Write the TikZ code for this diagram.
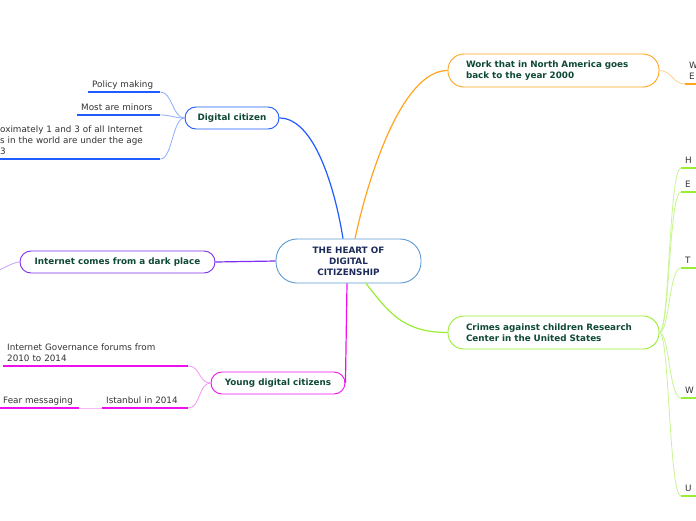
\documentclass[tikz,border=0pt]{standalone}
\usepackage{fontspec}
\setmainfont{DejaVu Sans}
\usetikzlibrary{calc}

\definecolor{heartblue}{HTML}{5B9BD5}
\definecolor{heartnavy}{HTML}{1C2B5A}
\definecolor{titlegreen}{HTML}{0F4A35}
\definecolor{leafgray}{HTML}{333333}
\definecolor{citizenblue}{HTML}{1F5BFF}
\definecolor{workorange}{HTML}{FFA41C}
\definecolor{darkpurple}{HTML}{7D2EF0}
\definecolor{crimegreen}{HTML}{99EE33}
\definecolor{youngpink}{HTML}{EE11EE}

\begin{document}
\begin{tikzpicture}[
  x=1pt, y=1pt,
  font=\fontsize{8.8}{11}\selectfont,
  heartbox/.style={
    rectangle, rounded corners=21pt,
    draw=heartblue, line width=0.9pt, fill=white,
    minimum width=145pt, minimum height=44pt,
    align=center, inner sep=0pt,
    text=heartnavy, font=\bfseries\fontsize{8.8}{11}\selectfont,
  },
  topic/.style={
    rectangle, rounded corners=11pt,
    draw, line width=0.9pt, fill=white,
    minimum height=22pt, inner xsep=12pt, inner ysep=0pt,
    text=titlegreen, font=\bfseries\fontsize{8.8}{11}\selectfont,
  },
  bigtopic/.style={
    topic, rounded corners=16pt,
    minimum height=33pt, text width=175pt,
    align=left, inner xsep=18pt,
  },
  leaf/.style={
    anchor=south west, align=left,
    inner xsep=4pt, inner ysep=4pt,
    text=leafgray,
  },
  leafline/.style={leaf, inner ysep=2.5pt, text depth=2pt},
  branch/.style={line width=1.2pt},
  twig/.style={line width=0.8pt},
  under/.style={line width=1.5pt},
]

% ----- page frame -----
\fill[white] (0,0) rectangle (696,-520);
\useasboundingbox (0,0) rectangle (696,-520);

% ----- central topic -----
\node[heartbox] (heart) at (348.5,-261) {THE HEART OF\\DIGITAL\\CITIZENSHIP};

% ----- main topics -----
\node[topic, draw=citizenblue, minimum width=94pt] (citizen) at (232,-118) {Digital citizen};
\node[bigtopic, draw=workorange] (work) at (553.5,-70.5)
  {Work that in North America goes back to the year 2000};
\node[topic, draw=darkpurple, minimum width=195pt] (dark) at (117.5,-262)
  {Internet comes from a dark place};
\node[bigtopic, draw=crimegreen] (crimes) at (553.5,-332.5)
  {Crimes against children Research Center in the United States};
\node[topic, draw=youngpink, minimum width=134pt] (young) at (278,-383)
  {Young digital citizens};

% ----- branches from the centre -----
\draw[branch, citizenblue] ([xshift=-5.5pt]heart.north)
  .. controls +(-8,50) and +(35,0) .. (citizen.east);
\draw[branch, workorange] ([xshift=6.5pt]heart.north)
  .. controls +(14,65) and +(-45,0) .. (work.west);
\draw[branch, darkpurple] (heart.west) -- (dark.east);
\draw[branch, crimegreen] ([xshift=17.5pt]heart.south)
  .. controls +(22,-28) and +(-45,0) .. (crimes.west);
\draw[branch, youngpink] ([xshift=-1.5pt]heart.south) -- (young.east);

% ----- Digital citizen (3) -----
\node[leafline, text width=64pt] (policy) at (88,-92) {Policy making};
\node[leafline, text width=75pt] (minors) at (77,-115) {Most are minors};
\node[leaf, text width=156pt] (approx) at (-4,-159)
  {oximately 1 and 3 of all Internet\\s in the world are under the age\\3};
\foreach \leafname in {policy,minors,approx}{
  \draw[under, citizenblue] (\leafname.south west) -- (\leafname.south east);
  \draw[twig, citizenblue!50] (citizen.west)
    .. controls +(-12,0) and +(12,0) .. (\leafname.south east);
}

% ----- Work in North America (1) -----
\node[leaf, text width=20pt] (workleaf) at (685,-84) {W\\E};
\draw[under, workorange] (workleaf.south west) -- (workleaf.south east);
\draw[twig, workorange!50] (work.east)
  .. controls +(12,0) and +(-12,0) .. (workleaf.south west);

% ----- dark place (1, off the page) -----
\coordinate (darkend) at (-12,-273);
\draw[twig, darkpurple!45] (dark.west)
  .. controls +(-8,0) and +(10,0) .. (darkend);

% ----- Crimes against children (5) -----
\node[leafline, text width=20pt] (crimeH) at (681,-168) {H};
\node[leafline, text width=20pt] (crimeE) at (681,-192) {E};
\node[leafline, text width=20pt] (crimeT) at (681,-268) {T};
\node[leafline, text width=20pt] (crimeW) at (681,-398) {W};
\node[leafline, text width=20pt] (crimeU) at (681,-496) {U};
\foreach \leafname in {crimeH,crimeE,crimeT,crimeW,crimeU}{
  \draw[under, crimegreen] (\leafname.south west) -- (\leafname.south east);
  \draw[twig, crimegreen!55] (crimes.east)
    .. controls +(10,0) and +(-12,0) .. (\leafname.south west);
}

% ----- Young digital citizens (2 + 1) -----
\node[leaf, text width=177pt] (forums) at (3,-366)
  {Internet Governance forums from\\2010 to 2014};
\node[leafline, text width=78pt] (istanbul) at (102,-408) {Istanbul in 2014};
\node[leafline, text width=72pt] (fear) at (-1,-408) {Fear messaging};
\foreach \leafname in {forums,istanbul}{
  \draw[twig, youngpink!45] (young.west)
    .. controls +(-12,0) and +(12,0) .. (\leafname.south east);
}
\draw[twig, youngpink!30] (istanbul.south west) -- (fear.south east);
\foreach \leafname in {forums,istanbul,fear}{
  \draw[under, youngpink] (\leafname.south west) -- (\leafname.south east);
}

\end{tikzpicture}
\end{document}
